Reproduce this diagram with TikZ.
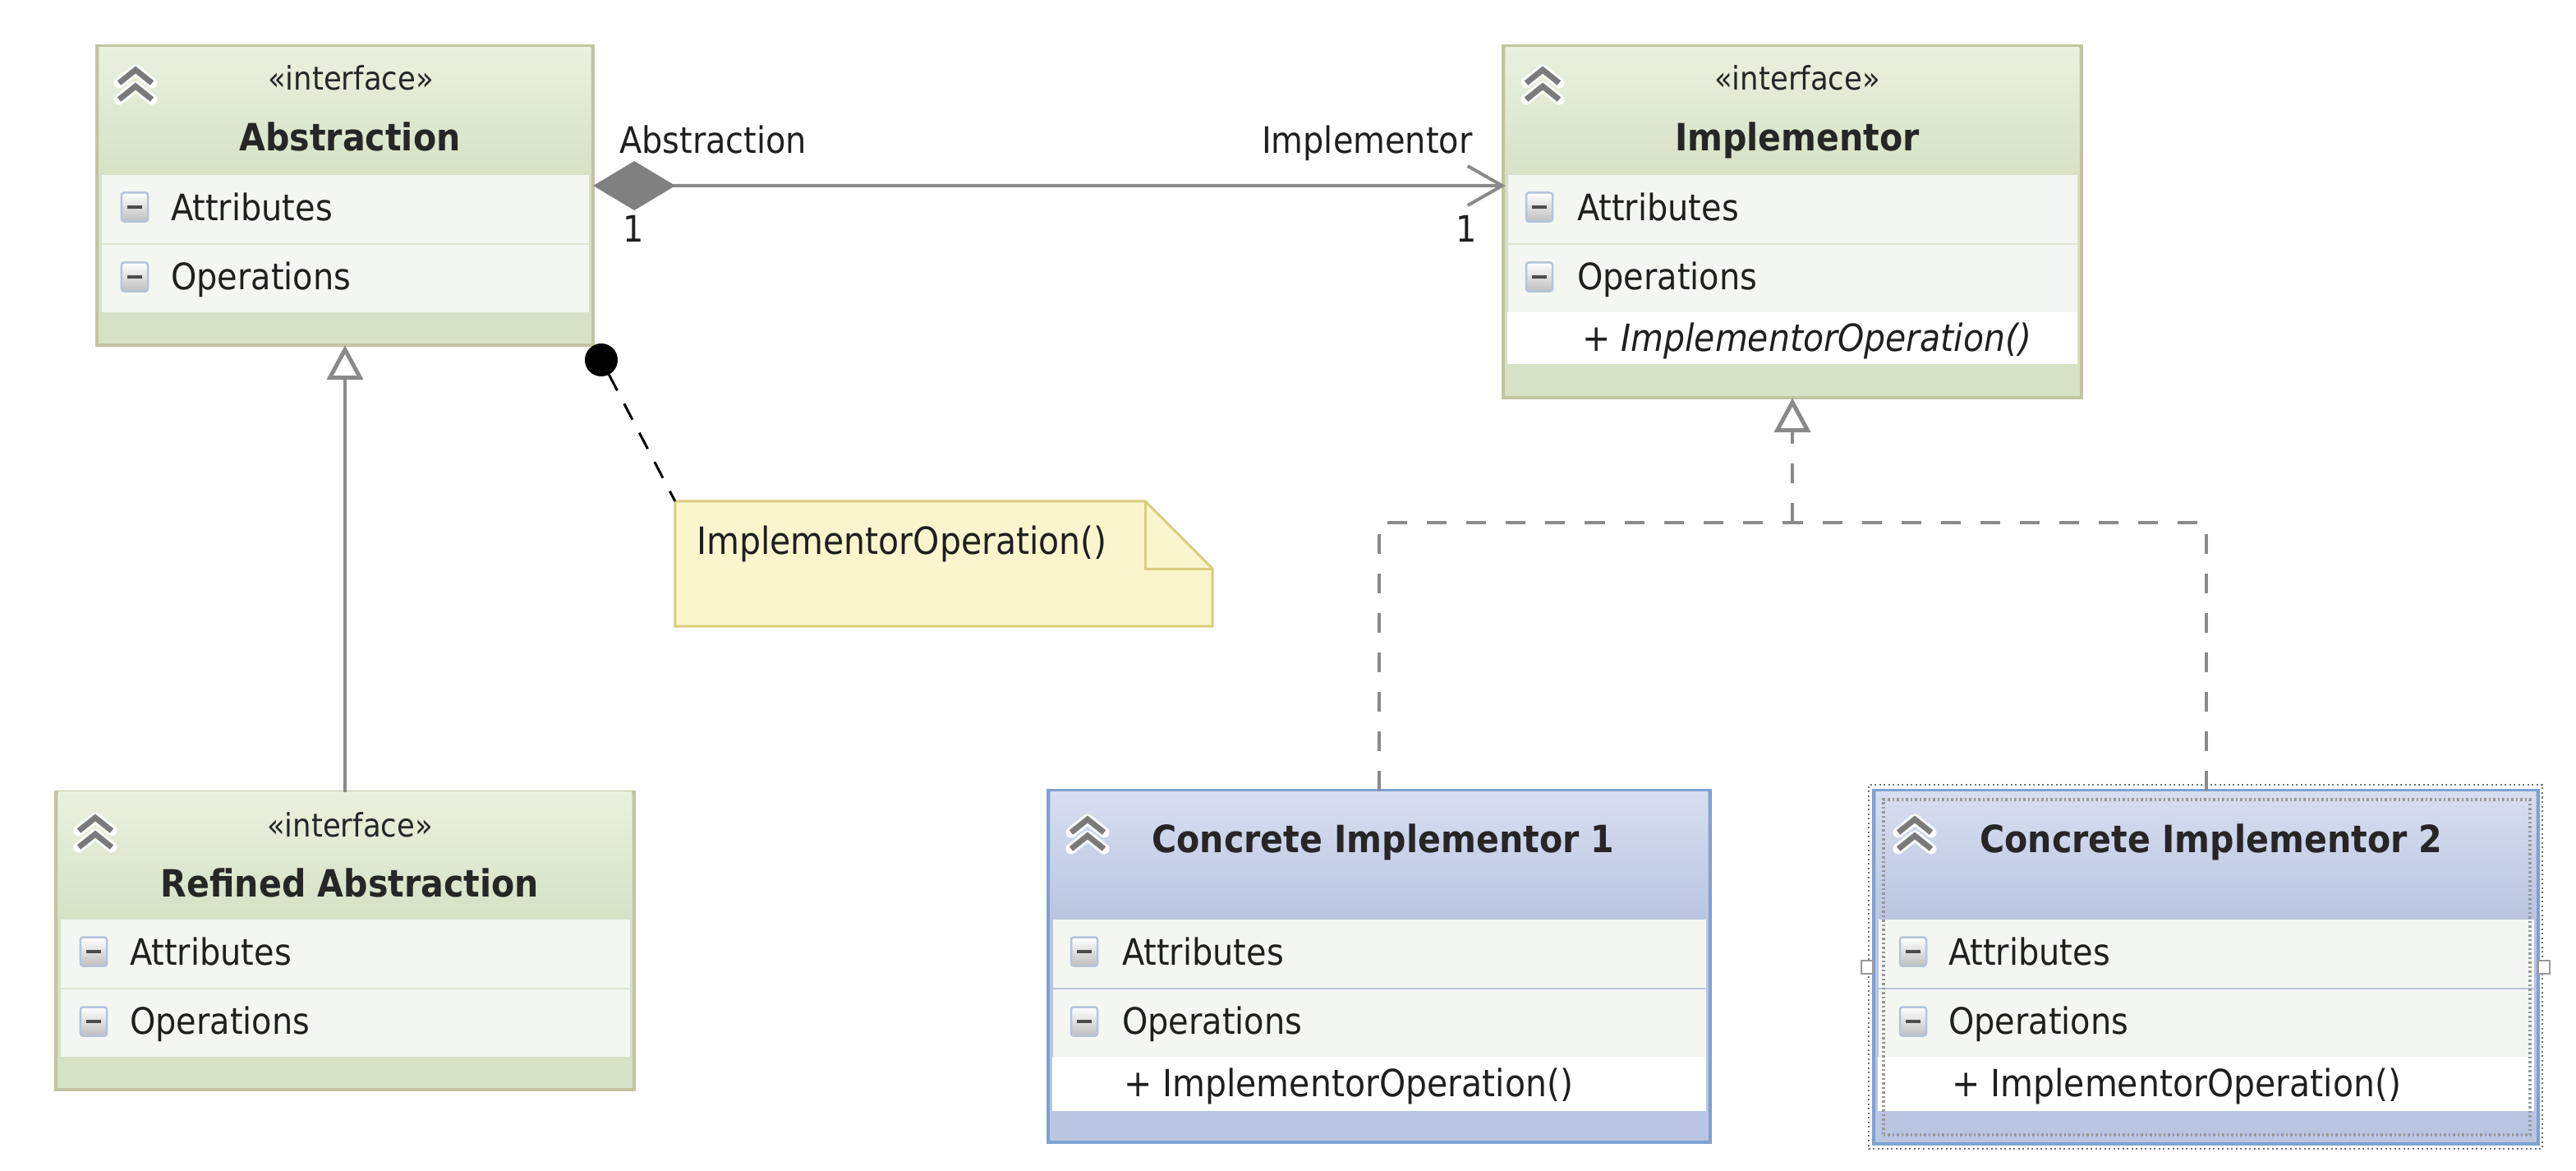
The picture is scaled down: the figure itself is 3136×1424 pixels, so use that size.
\documentclass[tikz,border=0pt]{standalone}
\usepackage{fontspec}
\setmainfont[FakeStretch=0.9]{DejaVu Sans}
\usetikzlibrary{arrows.meta}

\begin{document}
\begin{tikzpicture}[x=0.01cm, y=-0.01cm]
		\tikzset{base/.style = {inner sep=0pt, outer sep=0pt}}
		\tikzset{textnode/.style = {base, anchor=base west, text=black!88, font=\fontsize{12.6}{15}\selectfont}}
		\tikzset{optext/.style = {textnode, font=\fontsize{12.95}{15}\selectfont}}
		\tikzset{titlenode/.style = {base, anchor=base, text=black!85, font=\fontsize{13}{15}\selectfont\bfseries}}
		\tikzset{stereo/.style = {base, anchor=base, text=black!85, font=\fontsize{11.2}{14}\selectfont}}
		\tikzset{greenbox/.style = {base, draw=boxtan, line width=0.04cm, fill=footgreen}}
		\tikzset{bluebox/.style = {base, draw=boxblue, line width=0.04cm, fill=footblue}}
		\tikzset{greenhead/.style = {base, top color=headgreen, bottom color=footgreen}}
		\tikzset{bluehead/.style = {base, top color=headblue, bottom color=footblue}}
		\tikzset{band/.style = {base, fill=bandgrey}}
		\tikzset{method/.style = {base, fill=white}}
		\tikzset{toggle/.style = {base, draw=toggleblue, line width=0.025cm, rounded corners=0.03cm, top color=white, bottom color=black!25, minimum width=0.32cm, minimum height=0.35cm,
			path picture={\draw[line width=0.045cm, black!70] ([xshift=-0.09cm]path picture bounding box.center) -- ([xshift=0.09cm]path picture bounding box.center);}}}
		\tikzset{halo/.style = {white, line width=0.13cm, line join=round, line cap=round}}
		\tikzset{chevron/.style = {black!52, line width=0.07cm, line join=miter}}
		\tikzset{edge/.style = {linegrey, line width=0.04cm}}
		\tikzset{dashededge/.style = {edge, dash pattern=on 0.24cm off 0.24cm}}
		\tikzset{inherit/.style = {-{Triangle[open, fill=white, line width=0.05cm, length=0.42cm, width=0.44cm]}}}
		\definecolor{boxtan}{HTML}{C3C4A2}
		\definecolor{boxblue}{HTML}{7FA1D2}
		\definecolor{headgreen}{HTML}{EAF1DF}
		\definecolor{footgreen}{HTML}{D6E1C5}
		\definecolor{headblue}{HTML}{D8DEF1}
		\definecolor{footblue}{HTML}{BAC5E1}
		\definecolor{bandgrey}{HTML}{F4F6F1}
		\definecolor{sepgreen}{HTML}{DDE5D3}
		\definecolor{toggleblue}{HTML}{B4C4DA}
		\definecolor{linegrey}{HTML}{8A8A8A}
		\definecolor{notefill}{HTML}{FBF5CD}
		\definecolor{noteline}{HTML}{D9CD80}
		
		\useasboundingbox (0,0) rectangle (3136,1424);
		
		\node[greenbox, minimum width=6.04cm, minimum height=3.64cm] (abstraction) at (420,238) {};
		\node[greenbox, minimum width=7.04cm, minimum height=4.28cm] (implementor) at (2182,270) {};
		\node[greenbox, minimum width=7.04cm, minimum height=3.62cm] (refined) at (420,1145) {};
		\node[bluebox, minimum width=8.06cm, minimum height=4.28cm] (concreteA) at (1679,1176) {};
		\node[bluebox, minimum width=8.09cm, minimum height=4.30cm] (concreteB) at (2685.5,1177) {};
		
		% head, compartments, toggles and texts of each class
		\foreach \n/\x/\w/\t/\ix/\tx/\hd/\sep/\ti/\tix/\tiy in {
			abstraction/420/593/56/164/208/greenhead/sepgreen/Abstraction/426/183,
			implementor/2182/693/56/1874/1920/greenhead/sepgreen/Implementor/2188/183,
			refined/420/693/962/114/158/greenhead/sepgreen/Refined Abstraction/426/1091,
			concreteA/1679/795/962/1320/1366/bluehead/footblue/Concrete Implementor 1/1684/1037,
			concreteB/2685.5/798/962/2329/2372/bluehead/footblue/Concrete Implementor 2/2692/1037} {
			\node[\hd, minimum width=\w*0.01cm+0.05cm, minimum height=1.55cm] (\n-head) at (\x,\t+79.5) {};
			\node[band, minimum width=\w*0.01cm, minimum height=0.84cm] (\n-attr) at (\x,\t+199) {};
			\node[band, minimum width=\w*0.01cm, minimum height=0.83cm] (\n-ops) at (\x,\t+282.5) {};
			\draw[\sep, line width=0.025cm] (\n-attr.south west) to (\n-attr.south east);
			\node[toggle] (\n-attrtoggle) at (\ix,\t+196) {};
			\node[toggle] (\n-opstoggle) at (\ix,\t+281) {};
			\node[textnode] (\n-attrtext) at (\tx,\t+212) {Attributes};
			\node[textnode] (\n-opstext) at (\tx,\t+296) {Operations};
			\node[titlenode] (\n-title) at (\tix,\tiy) {\ti};
		}
		
		\node[stereo] (abstraction-stereo) at (427,110) {«interface»};
		\node[stereo] (implementor-stereo) at (2188,110) {«interface»};
		\node[stereo] (refined-stereo) at (426,1018) {«interface»};
		
		\node[method, minimum width=6.93cm, minimum height=0.63cm] (implementor-row) at (2182,411.5) {};
		\node[method, minimum width=7.95cm, minimum height=0.66cm] (concreteA-row) at (1679,1319) {};
		\node[method, minimum width=7.98cm, minimum height=0.66cm] (concreteB-row) at (2685.5,1319) {};
		\node[optext, font=\fontsize{12.95}{15}\selectfont\itshape] (implementor-op) at (1926,427) {+ ImplementorOperation()};
		\node[optext] (concreteA-op) at (1368,1334) {+ ImplementorOperation()};
		\node[optext] (concreteB-op) at (2376,1334) {+ ImplementorOperation()};
		
		\foreach \cx/\cy in {165/102, 1878/102, 116/1012, 1324/1014, 2331/1014} {
			\draw[halo] (\cx-20,\cy-1) -- (\cx,\cy-17) -- (\cx+20,\cy-1) (\cx-20,\cy+19) -- (\cx,\cy+3) -- (\cx+20,\cy+19);
			\draw[chevron] (\cx-20,\cy-1) -- (\cx,\cy-17) -- (\cx+20,\cy-1) (\cx-20,\cy+19) -- (\cx,\cy+3) -- (\cx+20,\cy+19);
		}
		
		% selection marks
		\node[base, draw=black!55, line width=0.02cm, densely dotted, minimum width=8.2cm, minimum height=4.43cm] (selection) at (2685,1176.5) {};
		\node[base, draw=black!40, line width=0.04cm, dash pattern=on 0.025cm off 0.03cm, minimum width=7.87cm, minimum height=4.08cm] (focus) at (2686.5,1177) {};
		\node[base, draw=black!40, fill=white, line width=0.02cm, minimum width=0.14cm, minimum height=0.16cm] (handleA) at (2273,1177) {};
		\node[base, draw=black!40, fill=white, line width=0.02cm, minimum width=0.14cm, minimum height=0.16cm] (handleB) at (3097,1177) {};
		
		% note
		\node[base, minimum width=6.54cm, minimum height=1.52cm] (note) at (1149,686) {};
		\draw[draw=noteline, fill=notefill, line width=0.03cm] (note.north west) -- ([xshift=-0.82cm]note.north east) -- ([yshift=-0.82cm]note.north east) -- (note.south east) -- (note.south west) -- cycle;
		\draw[draw=noteline, line width=0.03cm] ([xshift=-0.82cm]note.north east) -- ([xshift=-0.82cm, yshift=-0.82cm]note.north east) -- ([yshift=-0.82cm]note.north east);
		\node[optext] (notetext) at (848,674) {ImplementorOperation()};
		\node[base, circle, fill=black, minimum size=0.4cm] (dot) at (732,438) {};
		\draw[black, line width=0.03cm, dash pattern=on 0.22cm off 0.18cm] (dot) to (note.north west);
		
		% connectors
		\coordinate (join) at (2182,636);
		\draw[edge, shorten >=-0.03cm, {Diamond[fill=black!50, black!50, length=1cm, width=0.6cm]}-{Straight Barb[length=0.42cm, width=0.48cm]}] ([yshift=0.12cm]abstraction.east) to ([yshift=0.44cm]implementor.west);
		\draw[edge, inherit] (refined) to (abstraction);
		\draw[dashededge] (concreteA) |- (join);
		\draw[dashededge] (concreteB) |- (join);
		\draw[dashededge, inherit] (join) to (implementor);
		
		\node[textnode] (abstractionrole) at (754,186) {Abstraction};
		\node[textnode] (implementorrole) at (1536,186) {Implementor};
		\node[textnode] (abstractionmult) at (758,294) {1};
		\node[textnode] (implementormult) at (1772,294) {1};
		\end{tikzpicture}
\end{document}
